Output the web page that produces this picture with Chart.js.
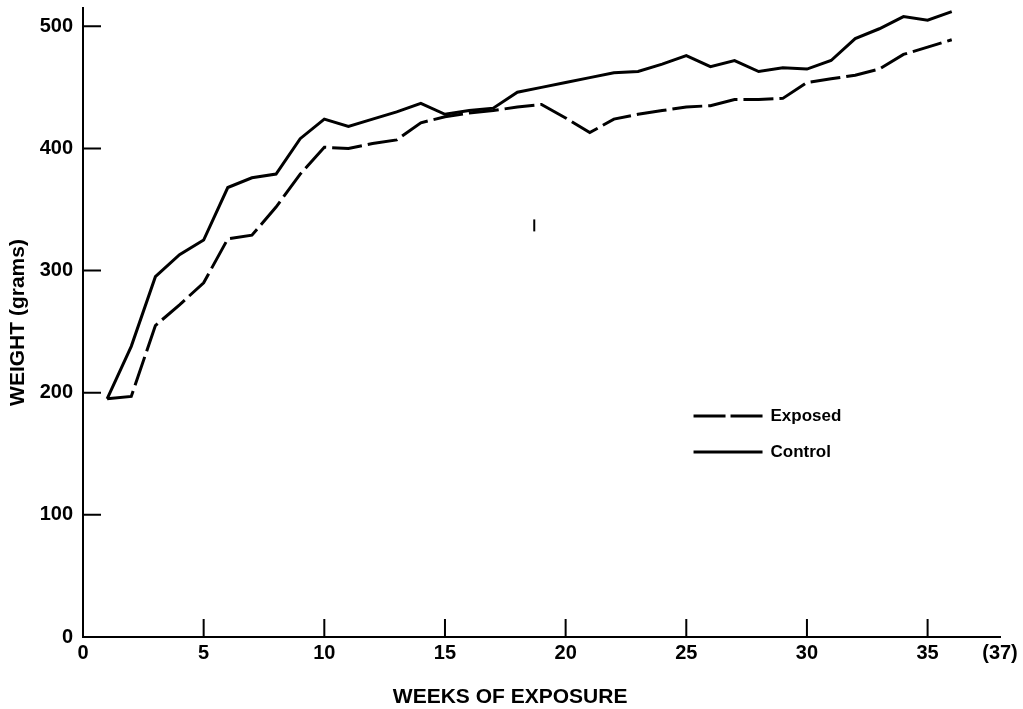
<!DOCTYPE html>
<html>
<head>
<meta charset="utf-8">
<script src="https://cdn.jsdelivr.net/npm/chart.js@4.4.1/dist/chart.umd.min.js"></script>
<style>
  html, body { margin: 0; padding: 0; background: #fff; }
  #wrap { width: 1023px; height: 709px; }
</style>
</head>
<body>
<div id="wrap"><canvas id="weightChart"></canvas></div>
<script>
// weeks of exposure and mean body weight (grams)
const weeks = [1, 2, 3, 4, 5, 6, 7, 8, 9, 10, 11, 12, 13, 14, 15, 16, 17, 18,
  19, 20, 21, 22, 23, 24, 25, 26, 27, 28, 29, 30, 31, 32, 33, 34, 35, 36];
const exposed = [195, 197, 255, 272, 290, 326, 329, 352, 379, 401, 400, 404, 407, 421, 426, 429, 431, 434,
  436, 425, 413, 424, 428, 431, 434, 435, 440, 440, 441, 454, 457, 460, 465, 477, 483, 489];
const control = [195, 238, 295, 313, 325, 368, 376, 379, 408, 424, 418, 424, 430, 437, 428, 431, 433, 446,
  450, 454, 458, 462, 463, 469, 476, 467, 472, 463, 466, 465, 472, 490, 498, 508, 505, 512];
const xTicks = [0, 5, 10, 15, 20, 25, 30, 35, 38];
const yTicks = [0, 100, 200, 300, 400, 500];
const speck = [{ x: 18.7, y: 337 }];

const FONT = '"Liberation Sans", Arial, sans-serif';
const ctx = document.getElementById('weightChart');

// short inward tick marks, the key and the x axis caption
const axisMarks = {
    id: 'axisMarks',
    afterDraw(chart) {
        const c = chart.ctx;
        const xs = chart.scales.x, ys = chart.scales.y;
        const area = chart.chartArea;
        c.save();
        c.strokeStyle = '#000';
        c.lineWidth = 2;
        c.beginPath();
        yTicks.filter(v => v > 0).forEach(v => {
            const py = ys.getPixelForValue(v);
            c.moveTo(area.left, py);
            c.lineTo(area.left + 18, py);
        });
        xTicks.filter(v => v > 0 && v < 38).forEach(v => {
            const px = xs.getPixelForValue(v);
            c.moveTo(px, area.bottom);
            c.lineTo(px, area.bottom - 18);
        });
        c.stroke();

        // key
        const kx = xs.getPixelForValue(25.3);
        const ky = ys.getPixelForValue(181);
        c.lineWidth = 3;
        c.setLineDash([32, 5]);
        c.beginPath();
        c.moveTo(kx, ky);
        c.lineTo(kx + 69, ky);
        c.stroke();
        c.setLineDash([]);
        c.beginPath();
        c.moveTo(kx, ky + 36);
        c.lineTo(kx + 69, ky + 36);
        c.stroke();
        c.fillStyle = '#000';
        c.font = 'bold 17px ' + FONT;
        c.textBaseline = 'middle';
        c.fillText('Exposed', kx + 77, ky);
        c.fillText('Control', kx + 77, ky + 36);

        // x axis caption
        c.font = 'bold 21px ' + FONT;
        c.textAlign = 'center';
        c.fillText('WEEKS OF EXPOSURE', xs.getPixelForValue(17.7), area.bottom + 60);
        c.restore();
    }
};

new Chart(ctx, {
    type: 'line',
    data: {
        datasets: [{
            label: 'Exposed',
            data: weeks.map((w, i) => ({ x: w, y: exposed[i] })),
            borderColor: '#000',
            borderWidth: 3,
            borderDash: [30, 6],
            pointRadius: 0,
            fill: false,
            tension: 0
        }, {
            label: 'Control',
            data: weeks.map((w, i) => ({ x: w, y: control[i] })),
            borderColor: '#000',
            borderWidth: 3,
            pointRadius: 0,
            fill: false,
            tension: 0
        }, {
            label: '',
            type: 'scatter',
            data: speck,
            pointStyle: 'line',
            rotation: 90,
            pointRadius: 6,
            borderColor: '#000',
            borderWidth: 2
        }]
    },
    options: {
        responsive: true,
        maintainAspectRatio: false,
        animation: false,
        layout: { padding: { top: 6, right: 23, left: 0, bottom: 0 } },
        plugins: {
            legend: { display: false },
            tooltip: { enabled: false }
        },
        scales: {
            x: {
                type: 'linear',
                min: 0,
                max: 38,
                afterBuildTicks: s => { s.ticks = xTicks.map(v => ({ value: v })); },
                afterFit: s => { s.height = 72; },
                grid: { display: false, drawTicks: false },
                border: { display: true, color: '#000', width: 2 },
                ticks: {
                    color: '#000',
                    padding: 4,
                    maxRotation: 0,
                    autoSkip: false,
                    font: { family: FONT, size: 20, weight: 'bold' },
                    callback: v => v === 38 ? '(37)' : String(v)
                }
            },
            y: {
                min: 0,
                max: 515,
                afterBuildTicks: s => { s.ticks = yTicks.map(v => ({ value: v })); },
                afterFit: s => { s.width = 83; s.paddingTop = 0; s.paddingBottom = 0; },
                grid: { display: false, drawTicks: false },
                border: { display: true, color: '#000', width: 2 },
                ticks: {
                    color: '#000',
                    padding: 10,
                    font: { family: FONT, size: 20, weight: 'bold' }
                },
                title: {
                    display: true,
                    text: 'WEIGHT (grams)',
                    color: '#000',
                    font: { family: FONT, size: 21, weight: 'bold' },
                    padding: { top: 6, bottom: 0 }
                }
            }
        }
    },
    plugins: [axisMarks]
});
</script>
</body>
</html>
